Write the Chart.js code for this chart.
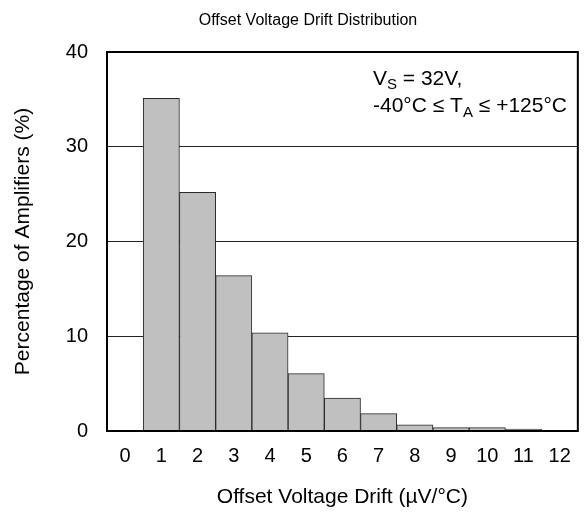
<!DOCTYPE html>
<html>
<head>
<meta charset="utf-8">
<script src="https://cdn.jsdelivr.net/npm/chart.js@4"></script>
<style>
  html, body { margin: 0; padding: 0; background: #fff; }
  #wrap { width: 584px; height: 513px; position: relative; }
</style>
</head>
<body>
<div id="wrap"><canvas id="c"></canvas></div>
<script>
const categories = ["0","1","2","3","4","5","6","7","8","9","10","11","12"];
const percentages = [0, 35.1, 25.2, 16.4, 10.35, 6.05, 3.48, 1.84, 0.65, 0.35, 0.35, 0.2, 0];
const yTicks = [0, 10, 20, 30, 40];
const chartTitle = "Offset Voltage Drift Distribution";
const xTitle = "Offset Voltage Drift (\u00B5V/\u00B0C)";
const yTitle = "Percentage of Amplifiers (%)";

const FONT = "'Liberation Sans', Arial, sans-serif";

const overlay = {
  id: 'overlay',
  afterDraw(chart) {
    const ctx = chart.ctx;
    const a = chart.chartArea;
    ctx.save();
    // plot border
    ctx.strokeStyle = '#000';
    ctx.lineWidth = 2;
    ctx.strokeRect(a.left, a.top, a.right - a.left, a.bottom - a.top);
    // main title
    ctx.fillStyle = '#000';
    ctx.font = "16px " + FONT;
    ctx.textAlign = 'center';
    ctx.textBaseline = 'middle';
    ctx.fillText(chartTitle, 308, 21);
    // annotation
    ctx.textAlign = 'left';
    ctx.textBaseline = 'alphabetic';
    const big = "21px " + FONT, small = "15px " + FONT;
    let x = 373, y = 85;
    ctx.font = big; ctx.fillText("V", x, y); x += ctx.measureText("V").width;
    ctx.font = small; ctx.fillText("S", x, y + 4); x += ctx.measureText("S").width;
    ctx.font = big; ctx.fillText(" = 32V,", x, y);
    x = 373; y = 112;
    ctx.font = big; let s = "-40\u00B0C \u2264 T"; ctx.fillText(s, x, y); x += ctx.measureText(s).width;
    ctx.font = small; ctx.fillText("A", x, y + 5); x += ctx.measureText("A").width;
    ctx.font = big; ctx.fillText(" \u2264 +125\u00B0C", x, y);
    ctx.restore();
  }
};

new Chart(document.getElementById('c'), {
  type: 'bar',
  data: {
    labels: categories,
    datasets: [{
      data: percentages,
      backgroundColor: '#c0c0c0',
      borderColor: '#2a2a2a',
      borderWidth: 1,
      barPercentage: 1,
      categoryPercentage: 1
    }]
  },
  options: {
    responsive: true,
    maintainAspectRatio: false,
    animation: false,
    devicePixelRatio: 1,
    layout: { padding: { top: 52, right: 4, left: 0, bottom: 0 } },
    plugins: { legend: { display: false }, title: { display: false }, tooltip: { enabled: false } },
    scales: {
      x: {
        grid: { display: false, drawTicks: false },
        border: { display: false },
        ticks: { color: '#000', font: { family: FONT, size: 20 }, padding: 13, maxRotation: 0 },
        title: { display: true, text: xTitle, color: '#000', font: { family: FONT, size: 21 }, padding: { top: 0, bottom: 3 } },
        afterFit(scale) { scale.height = 82; }
      },
      y: {
        min: 0, max: 40,
        afterBuildTicks(scale) { scale.ticks = yTicks.map(v => ({ value: v })); },
        grid: { color: '#222', lineWidth: 1, drawTicks: false },
        border: { display: false },
        ticks: { color: '#000', font: { family: FONT, size: 20 }, padding: 19 },
        title: { display: true, text: yTitle, color: '#000', font: { family: FONT, size: 21 }, padding: { top: 11, bottom: 0 } },
        afterFit(scale) { scale.width = 107; }
      }
    }
  },
  plugins: [overlay]
});
</script>
</body>
</html>
